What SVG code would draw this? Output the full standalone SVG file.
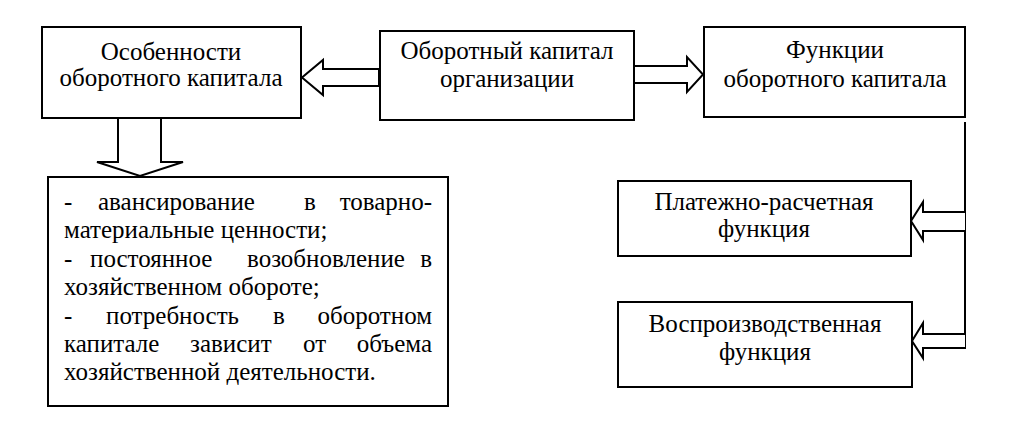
<svg xmlns="http://www.w3.org/2000/svg" width="1009" height="439" viewBox="0 0 1009 439">
<style>
.box{fill:#fff;stroke:#000;stroke-width:2}
.arr{fill:#fff;stroke:#000;stroke-width:2}
.t{font-family:"Liberation Serif","Times New Roman",serif;font-size:25px;fill:#000}
.c{text-anchor:middle}
.e{text-anchor:end}
</style>
<rect width="1009" height="439" fill="#fff"/>
<g id="connectors">
<polygon class="arr" points="379,69 323,69 323,60 302,77.5 323,95 323,86 379,86"/>
<polygon class="arr" points="634,66 687,66 687,57 703,74.5 687,92 687,83 634,83"/>
<polygon class="arr" points="118,118 118,162 97,162 140,176 183,162 161,162 161,118"/>
<line class="arr" x1="965" y1="122" x2="965" y2="349"/>
<polyline class="arr" points="965,212 923,212 923,202 911,221 923,240 923,231 965,231"/>
<polyline class="arr" points="965,334 923,334 923,323 912,341 923,358 923,348 965,348"/>
</g>
<g id="osobennosti">
<rect class="box" x="42" y="27" width="259" height="91"/>
<text class="t c" x="171" y="60">Особенности</text>
<text class="t c" x="171" y="86">оборотного капитала</text>
</g>
<g id="oborotny">
<rect class="box" x="380" y="31" width="254" height="89"/>
<text class="t c" x="507" y="59">Оборотный капитал</text>
<text class="t c" x="507" y="87">организации</text>
</g>
<g id="funkcii">
<rect class="box" x="704" y="27" width="261" height="90"/>
<text class="t c" x="835" y="58">Функции</text>
<text class="t c" x="835" y="87">оборотного капитала</text>
</g>
<g id="list">
<rect class="box" x="48" y="177" width="400" height="229"/>
<text class="t" x="64" y="210">-</text>
<text class="t" x="98" y="210">авансирование</text>
<text class="t" x="304" y="210">в</text>
<text class="t e" x="432" y="210">товарно-</text>
<text class="t" x="64" y="238">материальные ценности;</text>
<text class="t" x="64" y="267">-</text>
<text class="t" x="90" y="267">постоянное</text>
<text class="t" x="247" y="267">возобновление</text>
<text class="t e" x="432" y="267">в</text>
<text class="t" x="64" y="295">хозяйственном обороте;</text>
<text class="t" x="64" y="324">-</text>
<text class="t" x="106" y="324">потребность</text>
<text class="t" x="273" y="324">в</text>
<text class="t e" x="432" y="324">оборотном</text>
<text class="t" x="64" y="352">капитале</text>
<text class="t" x="190" y="352">зависит</text>
<text class="t" x="303" y="352">от</text>
<text class="t e" x="432" y="352">объема</text>
<text class="t" x="64" y="380">хозяйственной деятельности.</text>
</g>
<g id="platezhno">
<rect class="box" x="618" y="181" width="293" height="75"/>
<text class="t c" x="764" y="210">Платежно-расчетная</text>
<text class="t c" x="764" y="237">функция</text>
</g>
<g id="vosproizv">
<rect class="box" x="618" y="302" width="294" height="85"/>
<text class="t c" x="765" y="332">Воспроизводственная</text>
<text class="t c" x="765" y="360">функция</text>
</g>
</svg>
